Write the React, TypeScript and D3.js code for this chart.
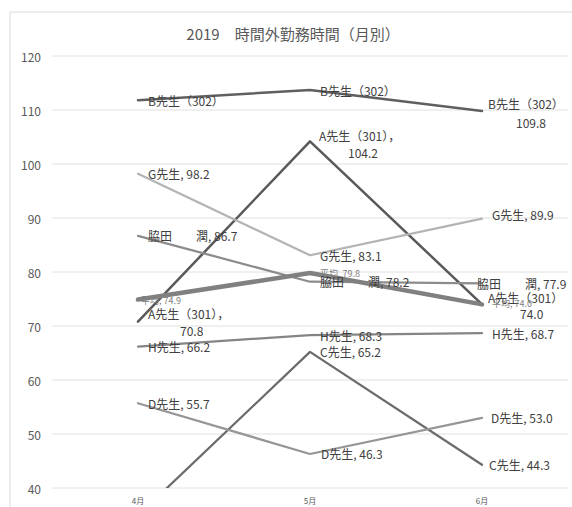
import * as d3 from "d3";

const months = ["4月", "5月", "6月"];
const yTicks = [40, 50, 60, 70, 80, 90, 100, 110, 120];

const names = ["A先生（301）", "B先生（302）", "C先生", "D先生", "G先生", "H先生", "脇田　　潤", "平均"];
const aVals = [70.8, 104.2, 74.0];
const bVals = [111.8, 113.7, 109.8];
const cVals = [34.9, 65.2, 44.3];
const dVals = [55.7, 46.3, 53.0];
const gVals = [98.2, 83.1, 89.9];
const hVals = [66.2, 68.3, 68.7];
const wakitaVals = [86.7, 78.2, 77.9];
const avgVals = [74.9, 79.8, 74.0];

const values = [aVals, bVals, cVals, dVals, gVals, hVals, wakitaVals, avgVals];

// styling per series
const colors = ["#595959", "#5f5f5f", "#6b6b6b", "#969696", "#b4b4b4", "#858585", "#8c8c8c", "#808080"];
const widths = [2.5, 2.5, 2.25, 2.25, 2.25, 2.25, 2.25, 4.5];

// label placement: mode one = "name, v", name = name only, two = "name," / v, twoNC = name / v
type Lab = { mode: string; dx: number; dy: number; dx2?: number; dy2?: number } | null;
const std: Lab = { mode: "one", dx: 10, dy: 0 };
const labels: Lab[][] = [
  [
    { mode: "two", dx: 10, dy: -8, dx2: 42, dy2: 9 },
    { mode: "two", dx: 9, dy: -6, dx2: 38, dy2: 11 },
    { mode: "twoNC", dx: 6, dy: -7, dx2: 38, dy2: 9 },
  ],
  [
    { mode: "name", dx: 10, dy: 0 },
    { mode: "name", dx: 10, dy: 0 },
    { mode: "twoNC", dx: 6, dy: -8, dx2: 34, dy2: 11 },
  ],
  [null, std, { mode: "one", dx: 7, dy: 0 }],
  [std, { mode: "one", dx: 11, dy: 0 }, { mode: "one", dx: 9, dy: 0 }],
  [std, std, { mode: "one", dx: 10, dy: -4 }],
  [std, std, std],
  [std, std, { mode: "one", dx: -5, dy: 0 }],
  [
    { mode: "one", dx: 3, dy: 1 },
    { mode: "one", dx: 10, dy: 0 },
    { mode: "one", dx: 10, dy: -1 },
  ],
];

const W = 572;
const H = 507;
const font = "'Noto Sans CJK JP', 'Noto Sans', sans-serif";

export default function App() {
  const x = d3.scaleBand().domain(months).range([52, 568]).padding(0);
  const y = d3.scaleLinear().domain([40, 120]).range([488, 56]);
  const cx = (m: string) => (x(m) as number) + x.bandwidth() / 2;

  const line = d3
    .line<number>()
    .x((_, i) => cx(months[i]))
    .y((v) => y(v));

  return (
    <svg
      width={W}
      height={H}
      style={{ position: "absolute", left: 0, top: 0, background: "#fff" }}
      fontFamily={font}
    >
      <defs>
        <clipPath id="plot">
          <rect x={52} y={50} width={516} height={438} />
        </clipPath>
      </defs>
      {/* chart frame */}
      <path d={`M10,${H} V12 H${W}`} fill="none" stroke="#d9d9d9" strokeWidth={1} />

      <text x={293} y={33} textAnchor="middle" dominantBaseline="central" fontSize={15} fill="#595959">
        2019　時間外勤務時間（月別）
      </text>

      {yTicks.map((t) => (
        <g key={t}>
          <line x1={52} x2={568} y1={y(t)} y2={y(t)} stroke="#e0e0e0" strokeWidth={1} />
          <text x={41} y={y(t)} textAnchor="end" dominantBaseline="central" fontSize={12} fill="#595959">
            {t}
          </text>
        </g>
      ))}

      {months.map((m) => (
        <text key={m} x={cx(m)} y={500} textAnchor="middle" dominantBaseline="central" fontSize={8} fill="#595959">
          {m}
        </text>
      ))}

      <g clipPath="url(#plot)">
        {values.map((vals, si) => (
          <path
            key={names[si]}
            d={line(vals) as string}
            fill="none"
            stroke={colors[si]}
            strokeWidth={widths[si]}
            strokeLinejoin="round"
            strokeLinecap="round"
          />
        ))}
      </g>

      {values.map((vals, si) =>
        vals.map((v, i) => {
          const lab = labels[si][i];
          if (!lab) return null;
          const px = cx(months[i]);
          const py = y(v);
          const isAvg = names[si] === "平均";
          const fs = isAvg ? 9 : 12;
          const fill = isAvg ? "#808080" : "#404040";
          const vs = v.toFixed(1);
          const key = `${si}-${i}`;
          if (lab.mode === "one" || lab.mode === "name") {
            return (
              <text
                key={key}
                x={px + lab.dx}
                y={py + lab.dy}
                dominantBaseline="central"
                fontSize={fs}
                fill={fill}
                style={{ whiteSpace: "pre" }}
              >
                {lab.mode === "one" ? `${names[si]}, ${vs}` : names[si]}
              </text>
            );
          }
          return (
            <g key={key} fontSize={fs} fill={fill}>
              <text x={px + lab.dx} y={py + lab.dy} dominantBaseline="central">
                {lab.mode === "two" ? `${names[si]}，` : names[si]}
              </text>
              <text x={px + (lab.dx2 ?? 0)} y={py + (lab.dy2 ?? 0)} dominantBaseline="central">
                {vs}
              </text>
            </g>
          );
        })
      )}
    </svg>
  );
}
